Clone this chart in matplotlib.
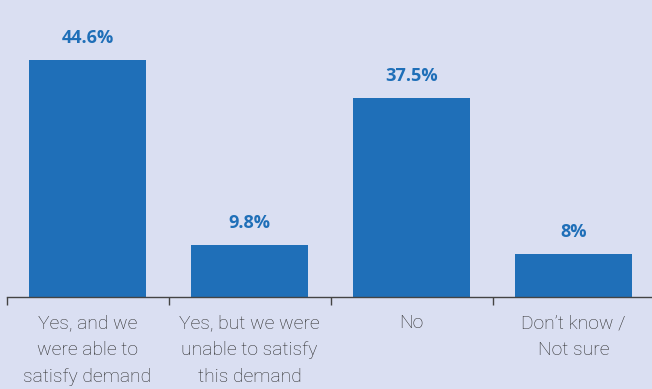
import matplotlib
matplotlib.use("Agg")
import matplotlib.pyplot as plt

categories = ["Yes, and we\nwere able to\nsatisfy demand",
              "Yes, but we were\nunable to satisfy\nthis demand",
              "No",
              "Don\u2019t know /\nNot sure"]
values = [44.6, 9.8, 37.5, 8]
value_labels = ["44.6%", "9.8%", "37.5%", "8%"]

bg = "#dadff2"
bar_color = "#1f6fb8"

fig = plt.figure(figsize=(6.52, 3.89), dpi=100, facecolor=bg)
ax = fig.add_axes([6.5/652, (389-297)/389, 648/652, 297/389])
ax.set_facecolor(bg)

x = list(range(len(categories)))
ax.bar(x, values, width=0.72, color=bar_color)
ax.set_xlim(-0.5, 3.5)
ax.set_ylim(0, 55.9)

for xi, v, lab in zip(x, values, value_labels):
    ax.annotate(lab, (xi, v), xytext=(0, 16), textcoords="offset points",
                ha="center", va="center", fontsize=13.1, fontweight="bold",
                color=bar_color, family="Open Sans")

for s in ["top", "right", "left"]:
    ax.spines[s].set_visible(False)
ax.spines["bottom"].set_color("#444444")
ax.spines["bottom"].set_linewidth(1)
ax.set_yticks([])
ax.set_xticks([-0.5, 0.5, 1.5, 2.5, 3.5])
ax.set_xticklabels([])
ax.tick_params(axis="x", length=5.5, width=1, color="#444444")
ax.set_xticks(x, minor=True)
ax.set_xticklabels(categories, minor=True, fontsize=13.9, color="#2b2b2b",
                   family="Roboto", fontweight="light", linespacing=1.62)
ax.tick_params(axis="x", which="minor", length=0, pad=12.5)

fig.savefig("out.png", dpi=100, facecolor=bg)
